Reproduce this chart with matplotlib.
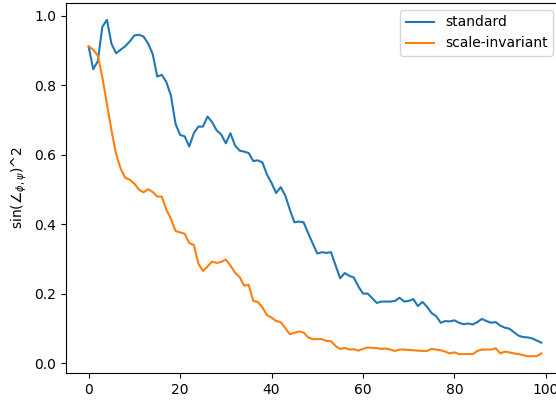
import numpy as np
import matplotlib
matplotlib.use('Agg')
import matplotlib.pyplot as plt

standard = [
    0.911, 0.846, 0.869, 0.968, 0.988, 0.919, 0.892, 0.902, 0.912, 0.926,
    0.943, 0.945, 0.940, 0.920, 0.890, 0.825, 0.830, 0.809, 0.770, 0.689,
    0.657, 0.653, 0.624, 0.662, 0.681, 0.681, 0.710, 0.694, 0.670, 0.658,
    0.633, 0.662, 0.627, 0.612, 0.609, 0.605, 0.582, 0.584, 0.578, 0.543,
    0.519, 0.490, 0.507, 0.483, 0.442, 0.406, 0.408, 0.406, 0.375, 0.345,
    0.316, 0.320, 0.318, 0.320, 0.282, 0.245, 0.260, 0.252, 0.247, 0.221,
    0.201, 0.201, 0.188, 0.174, 0.178, 0.178, 0.178, 0.180, 0.189, 0.178,
    0.180, 0.185, 0.165, 0.177, 0.163, 0.145, 0.136, 0.117, 0.122, 0.121,
    0.124, 0.117, 0.113, 0.115, 0.112, 0.119, 0.128, 0.122, 0.117, 0.119,
    0.109, 0.103, 0.100, 0.090, 0.080, 0.076, 0.075, 0.072, 0.066, 0.060,
]

scale_invariant = [
    0.912, 0.902, 0.885, 0.823, 0.746, 0.670, 0.603, 0.560, 0.534, 0.528,
    0.517, 0.500, 0.492, 0.501, 0.493, 0.480, 0.480, 0.442, 0.416, 0.381,
    0.377, 0.373, 0.346, 0.341, 0.287, 0.266, 0.279, 0.293, 0.289, 0.292,
    0.299, 0.282, 0.261, 0.249, 0.224, 0.226, 0.180, 0.177, 0.161, 0.139,
    0.132, 0.122, 0.119, 0.102, 0.084, 0.088, 0.092, 0.089, 0.075, 0.070,
    0.070, 0.070, 0.065, 0.064, 0.050, 0.042, 0.045, 0.040, 0.041, 0.037,
    0.042, 0.046, 0.045, 0.044, 0.042, 0.043, 0.040, 0.036, 0.040, 0.040,
    0.039, 0.038, 0.037, 0.036, 0.036, 0.042, 0.040, 0.038, 0.034, 0.029,
    0.032, 0.027, 0.027, 0.027, 0.027, 0.036, 0.040, 0.040, 0.040, 0.044,
    0.029, 0.034, 0.032, 0.029, 0.027, 0.024, 0.021, 0.021, 0.021, 0.029,
]

x = np.arange(len(standard))

fig = plt.figure(figsize=(5.56, 4.0), dpi=100)
# axes run off the right edge, like the cropped original
ax = fig.add_axes([66 / 556, 27 / 400, 498 / 556, 370 / 400])
ax.plot(x, standard, label='standard')
ax.plot(x, scale_invariant, label='scale-invariant')
ax.set_ylabel(r'sin($\angle_{\phi,\psi}$)^2')
ax.set_xticks([0, 20, 40, 60, 80, 100])
ax.legend(loc='upper right', bbox_to_anchor=(0.992, 1.0))

fig.savefig('out.png', dpi=100)
